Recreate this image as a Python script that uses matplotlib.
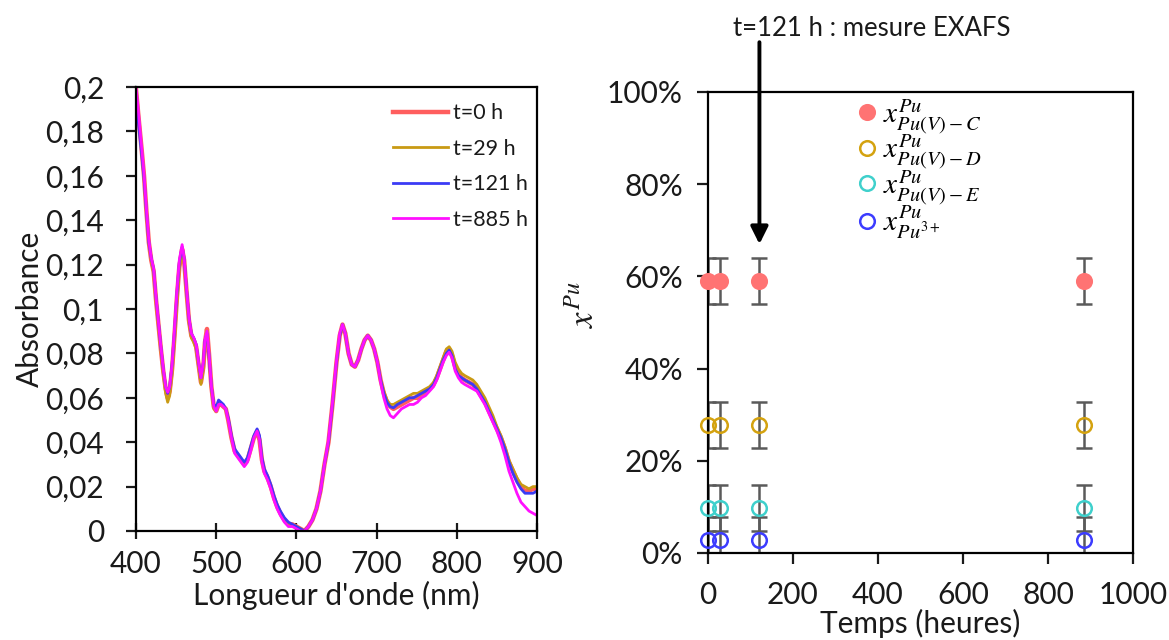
import matplotlib
matplotlib.use("Agg")
import matplotlib.pyplot as plt
from matplotlib.ticker import FuncFormatter, PercentFormatter, MultipleLocator
from matplotlib.lines import Line2D

plt.rcParams['font.family'] = ['Lato', 'DejaVu Sans']
plt.rcParams['mathtext.fontset'] = 'stix'

# ---------------- left panel: UV-vis spectra ----------------
wavelength = [400, 403, 407, 410, 413, 416, 419, 422, 425, 428,
              431, 434, 437, 439.5, 442, 445, 448, 451, 454, 457.5,
              460, 463, 466, 469, 472, 475, 478, 481, 484, 486,
              488.5, 491, 494, 497, 500, 503, 506, 509, 512, 515,
              519, 523, 527, 531, 535, 539, 543, 547, 551, 554,
              557, 560, 564, 568, 572, 576, 580, 585, 590, 595,
              600, 605, 610, 615, 620, 625, 630, 635, 640, 645,
              650, 654, 657.5, 661, 665, 669, 673, 677, 681, 685,
              689, 693, 697, 701, 705, 709, 713, 717, 721, 726,
              731, 736, 741, 746, 751, 756, 761, 766, 771, 775,
              779, 783, 787, 790.5, 794, 798, 802, 806, 810, 815,
              820, 825, 830, 835, 840, 845, 850, 855, 860, 865,
              870, 875, 880, 885, 890, 895, 900]

abs_t0 = [.199, .187, .172, .160, .144, .130, .122, .117, .104, .093,
          .082, .072, .064, .060, .063, .073, .088, .105, .119, .127,
          .122, .108, .095, .088, .086, .083, .075, .067, .074, .085,
          .091, .080, .065, .056, .054, .057, .057, .056, .055, .050,
          .042, .036, .034, .032, .030, .032, .037, .042, .045, .041,
          .032, .027, .024, .020, .015, .011, .008, .005, .003, .003,
          .002, .001, .000, .002, .005, .010, .018, .030, .040, .057,
          .076, .088, .093, .089, .080, .075, .074, .077, .082, .086,
          .088, .086, .082, .076, .068, .062, .058, .056, .055, .056,
          .057, .058, .059, .060, .060, .061, .062, .064, .066, .069,
          .073, .077, .081, .082, .079, .074, .071, .069, .068, .067,
          .066, .064, .061, .058, .054, .050, .046, .042, .037, .031,
          .027, .023, .020, .018, .018, .019, .019]

abs_t29 = [.198, .187, .172, .160, .144, .130, .122, .116, .103, .092,
           .081, .071, .062, .058, .061, .071, .086, .103, .118, .126,
           .121, .107, .094, .087, .085, .082, .074, .066, .073, .084,
           .090, .079, .064, .055, .054, .057, .057, .056, .055, .050,
           .042, .036, .034, .032, .030, .032, .037, .042, .045, .041,
           .032, .027, .024, .020, .015, .011, .008, .005, .003, .003,
           .002, .001, .000, .002, .005, .010, .018, .030, .040, .057,
           .076, .088, .093, .089, .080, .075, .074, .077, .082, .086,
           .088, .086, .082, .076, .068, .063, .059, .057, .057, .058,
           .059, .060, .061, .062, .062, .063, .064, .065, .067, .070,
           .074, .078, .082, .083, .081, .076, .073, .071, .070, .069,
           .068, .066, .063, .060, .056, .052, .047, .043, .038, .032,
           .028, .024, .021, .020, .019, .020, .020]

abs_t121 = [.194, .184, .170, .159, .144, .130, .123, .118, .105, .094,
            .083, .073, .065, .062, .065, .075, .090, .107, .121, .128,
            .123, .109, .096, .089, .087, .084, .076, .069, .076, .086,
            .089, .079, .065, .057, .056, .059, .058, .057, .055, .051,
            .043, .037, .035, .033, .031, .033, .038, .043, .046, .043,
            .033, .028, .025, .021, .016, .012, .009, .006, .004, .003,
            .002, .001, .000, .002, .005, .010, .018, .030, .040, .057,
            .076, .088, .093, .089, .080, .075, .074, .077, .082, .086,
            .088, .086, .082, .076, .068, .062, .058, .056, .0555, .057,
            .058, .059, .060, .060, .061, .062, .063, .064, .066, .069,
            .073, .077, .080, .0815, .079, .073, .070, .069, .068, .067,
            .066, .064, .061, .058, .054, .050, .046, .042, .037, .031,
            .026, .022, .019, .017, .017, .017, .018]

abs_t885 = [.200, .189, .173, .161, .145, .131, .123, .118, .105, .094,
            .083, .073, .065, .0625, .065, .075, .091, .108, .122, .129,
            .123, .109, .096, .089, .087, .084, .076, .069, .076, .086,
            .090, .080, .065, .056, .054, .057, .057, .056, .055, .050,
            .042, .035, .033, .031, .029, .031, .036, .042, .045, .041,
            .031, .026, .023, .019, .014, .010, .007, .004, .002, .002,
            .001, .000, .000, .002, .005, .010, .018, .030, .041, .058,
            .077, .089, .093, .089, .080, .075, .074, .077, .082, .086,
            .088, .086, .082, .076, .067, .060, .055, .052, .051, .053,
            .055, .056, .057, .057, .058, .060, .061, .063, .065, .068,
            .072, .076, .079, .0805, .078, .072, .069, .067, .066, .065,
            .064, .063, .060, .057, .053, .049, .045, .040, .034, .027,
            .022, .017, .013, .011, .009, .008, .007]

spectra_labels = ["t=0 h", "t=29 h", "t=121 h", "t=885 h"]

# ---------------- right panel: speciation vs time ----------------
times = [0, 29, 121, 885]
frac_C = [0.59, 0.59, 0.59, 0.59]
frac_D = [0.278, 0.278, 0.278, 0.278]
frac_E = [0.098, 0.098, 0.098, 0.098]
frac_Pu3 = [0.029, 0.029, 0.029, 0.029]
frac_err = 0.05
species_labels = [r"$x^{Pu}_{Pu(V)-C}$", r"$x^{Pu}_{Pu(V)-D}$",
                  r"$x^{Pu}_{Pu(V)-E}$", r"$x^{Pu}_{Pu^{3+}}$"]

# ---------------- figure ----------------
fig = plt.figure(figsize=(11.69, 6.40), dpi=100)
txt = '#1a1a1a'
tick_fs = 21.5

# left axes
ax1 = fig.add_axes([136/1169, 1-531/640, (537-136)/1169, (531-87)/640])
spec_colors = ['#FF5E5E', '#C99A14', '#3B3BF5', '#FF10FF']
spec_lw = [3.2, 2.0, 2.0, 2.0]
for y, c, lw, lab in zip([abs_t0, abs_t29, abs_t121, abs_t885], spec_colors, spec_lw, spectra_labels):
    ax1.plot(wavelength, y, color=c, lw=lw, label=lab, solid_joinstyle='round')
ax1.set_xlim(400, 900)
ax1.set_ylim(0, 0.2)
ax1.xaxis.set_major_locator(MultipleLocator(100))
ax1.yaxis.set_major_locator(MultipleLocator(0.02))
ax1.yaxis.set_major_formatter(FuncFormatter(lambda v, p: f"{round(v, 3):g}".replace('.', ',')))
ax1.tick_params(axis='x', direction='inout', length=11, width=1.6, labelsize=tick_fs, colors=txt, pad=8)
ax1.tick_params(axis='y', direction='out', length=7, width=1.6, labelsize=tick_fs, colors=txt, pad=16)
for s in ax1.spines.values():
    s.set_linewidth(1.6)
    s.set_color('black')
ax1.set_xlabel("Longueur d'onde (nm)", fontsize=tick_fs, color=txt, labelpad=2)
ax1.set_ylabel("Absorbance", fontsize=tick_fs, color=txt, labelpad=1)
ax1.legend(loc='upper right', bbox_to_anchor=(1.018, 1.0), frameon=False, fontsize=15.5,
           handlelength=2.55, handletextpad=0.25, labelspacing=0.72, borderaxespad=0.35,
           labelcolor=txt)

# right axes
ax2 = fig.add_axes([708/1169, 1-553/640, (1133-708)/1169, (553-92)/640])
err_col = '#5a5a5a'
series = [(frac_C, '#FF7373', True), (frac_D, '#D4A20F', False),
          (frac_E, '#3FD0CC', False), (frac_Pu3, '#3C3CFF', False)]
for vals, col, filled in series:
    ax2.errorbar(times, vals, yerr=frac_err, fmt='none', ecolor=err_col,
                 elinewidth=1.8, capsize=5.5, capthick=1.8, zorder=2)
handles = []
for (vals, col, filled), lab in zip(series, species_labels):
    ax2.plot(times, vals, linestyle='none', marker='o', markersize=10.5,
             markerfacecolor=col if filled else 'none', markeredgecolor=col,
             markeredgewidth=1.8, clip_on=False, zorder=3)
    handles.append(Line2D([], [], linestyle='none', marker='o', markersize=10.5,
                          markerfacecolor=col if filled else 'none', markeredgecolor=col,
                          markeredgewidth=1.8, label=lab))
ax2.set_xlim(0, 1000)
ax2.set_ylim(0, 1.0)
ax2.xaxis.set_major_locator(MultipleLocator(200))
ax2.yaxis.set_major_locator(MultipleLocator(0.2))
ax2.yaxis.set_major_formatter(PercentFormatter(1.0, decimals=0))
ax2.tick_params(axis='x', direction='out', length=8, width=1.6, labelsize=tick_fs, colors=txt, pad=12)
ax2.tick_params(axis='y', direction='out', length=8, width=1.6, labelsize=tick_fs, colors=txt, pad=10)
for s in ax2.spines.values():
    s.set_linewidth(1.6)
    s.set_color('black')
ax2.set_xlabel("Temps (heures)", fontsize=tick_fs, color=txt, labelpad=0)
ax2.set_ylabel(r"$x^{Pu}$", fontsize=25, color=txt)
ax2.yaxis.set_label_coords(-0.255, 0.54)
ax2.legend(handles=handles, loc='upper left', bbox_to_anchor=(0.313, 1.015), frameon=False,
           fontsize=21, handletextpad=0.05, labelspacing=-0.12, borderaxespad=0.0,
           handlelength=1.0)

ax2.annotate('', xy=(121, 0.67), xytext=(121, 1.108), xycoords='data', textcoords='data',
             arrowprops=dict(arrowstyle='-|>', lw=2.8, color='black', mutation_scale=26,
                             shrinkA=0, shrinkB=0),
             annotation_clip=False)
fig.text(872/1169, 1-28/640, "t=121 h : mesure EXAFS", fontsize=18.5, color=txt,
         ha='center', va='center')

fig.savefig("out.png", dpi=100)
